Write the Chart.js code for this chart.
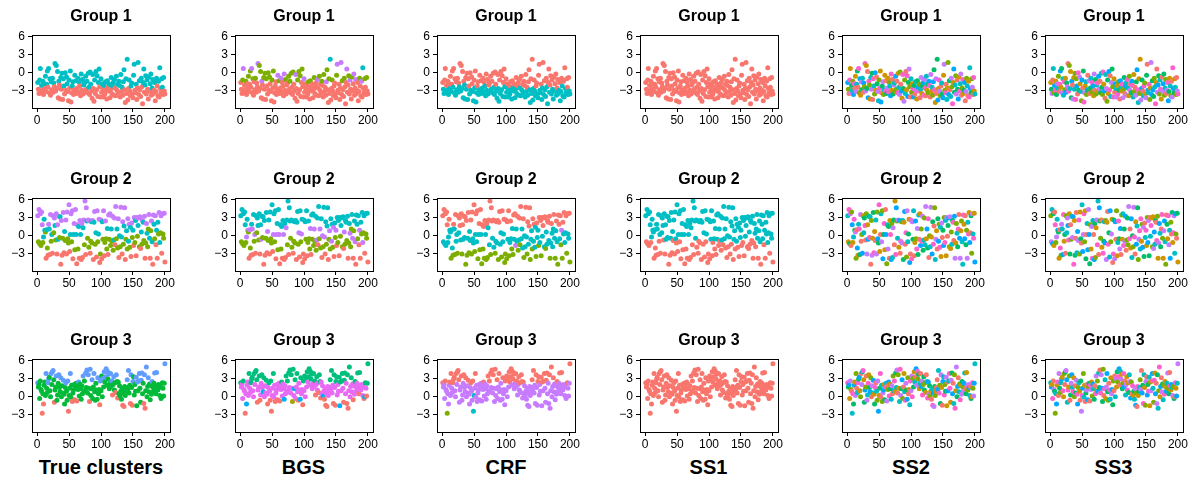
<!DOCTYPE html>
<html>
<head>
<meta charset="utf-8">
<script src="https://cdn.jsdelivr.net/npm/chart.js@4.4.1/dist/chart.umd.min.js"></script>
<style>
  body { margin: 0; background: #fff; width: 1197px; height: 479px; position: relative; overflow: hidden;
         font-family: "Liberation Sans", Arial, Helvetica, sans-serif; }
  .panel { position: absolute; }
  .method { position: absolute; width: 200px; text-align: center; font-weight: bold; font-size: 20px; line-height: 20px; color: #000; }
</style>
</head>
<body>
<script>
// axis ticks
const xTicks = [0, 50, 100, 150, 200];
const yTicks = [-3, 0, 3, 6];
const groupTitles = ['Group 1', 'Group 2', 'Group 3'];
const methods = ['True clusters', 'BGS', 'CRF', 'SS1', 'SS2', 'SS3'];

// observed values (x = 1..200)
const group1 = [
  -1.6,-2.7,-3.4,-1.2,0.7,-3.3,-2.1,-2.9,-1.4,-3.6,-1.8,-2.6,-0.6,-3.1,-1.9,0.3,-2.4,0.7,-3.3,-1.0,
  -3.7,-1.5,-2.8,-0.9,-3.2,-1.7,-2.3,1.5,-3.0,1.2,-2.6,0.2,-4.1,-1.4,-2.0,-4.3,-0.8,-2.7,-0.1,-4.4,
  -1.0,-2.2,-3.5,0.0,-2.9,-0.7,-1.8,-3.1,-4.6,-1.2,-2.5,0.3,-4.8,-3.3,-2.2,-1.5,-3.6,-2.8,-0.4,-3.0,
  -1.3,-3.4,-2.5,-0.9,-3.2,-1.6,-2.2,-3.8,-0.2,-2.9,-1.1,-3.5,-2.0,-1.7,-3.1,-0.6,-2.7,-1.4,-3.3,-0.1,
  -2.4,-3.6,0.1,-1.9,-3.0,-4.2,-0.3,-2.6,-4.7,-1.2,-3.4,0.2,-2.8,-0.5,-3.9,-1.6,0.6,-2.3,-4.0,-1.0,
  -3.2,-1.8,-2.6,-4.0,-2.1,-3.5,-1.5,-2.9,-4.3,-1.3,-2.4,-3.0,-1.9,-4.1,-2.7,-0.8,-3.4,-2.2,-1.6,-3.7,
  -1.1,-2.5,-3.8,-0.6,-2.9,-1.9,-3.3,-1.4,-2.1,-4.0,-0.3,-3.1,-2.4,-3.7,-1.5,0.5,-2.8,-4.9,-1.0,-3.4,
  2.2,-4.5,-2.6,-1.2,-3.0,-3.8,-2.2,-1.7,-3.5,-4.1,-0.4,1.4,-2.9,-3.3,-1.9,-4.4,-2.5,1.7,-3.6,-1.3,
  -2.8,-3.9,-0.9,-2.3,-5.1,-1.6,0.6,-3.2,-2.0,-0.5,-3.5,-1.2,-2.7,-4.3,-0.7,-3.0,-1.8,-0.2,-3.7,-2.5,
  -1.1,-3.4,-2.9,-1.6,-4.6,-3.1,-0.9,-2.2,-3.8,-1.4,-4.0,0.8,-2.6,-3.3,-1.0,-2.4,-3.6,-0.8,-3.0,-3.5
];
const group2 = [
  3.3,-1.0,4.3,-1.3,3.6,-1.6,3.9,1.8,-1.1,-0.2,2.7,0.9,0.6,-3.7,1.0,-2.0,-3.2,1.9,1.1,-3.1,
  3.5,-0.9,0.2,-2.9,3.3,0.5,2.9,1.7,-0.7,3.6,-3.0,1.8,-0.6,3.2,-0.3,3.1,-4.7,2.5,-3.2,-0.4,
  3.8,-2.8,0.7,-0.8,2.6,-3.0,3.9,-0.5,-1.2,5.1,-2.6,0.2,3.6,-1.0,4.1,-3.8,0.2,2.0,-2.3,4.3,
  0.2,-4.6,1.8,-2.2,1.5,-3.7,2.5,0.2,-3.9,2.0,-3.6,1.3,2.6,-1.5,5.7,-3.1,4.6,2.4,-0.4,2.6,
  -1.9,2.5,-2.9,-0.9,2.3,-1.2,2.5,-3.9,2.2,4.0,-1.4,0.5,-3.5,4.1,-1.0,0.3,2.7,-4.4,-3.0,2.6,
  -3.8,2.3,-0.6,4.1,-3.3,-1.1,2.4,-0.5,-2.2,1.2,-3.1,3.4,-0.6,3.6,-1.6,1.1,-0.9,3.2,-2.4,-0.7,
  2.9,-1.5,4.8,-0.5,1.1,-2.0,2.8,-3.6,0.0,-1.8,4.7,-0.2,-3.0,2.3,-1.4,1.6,4.6,-3.9,-0.6,0.8,
  -2.2,2.8,-0.9,1.9,-1.9,1.4,-3.4,2.1,-0.3,0.9,-1.6,3.0,-1.1,2.5,-3.3,3.0,-0.1,1.7,2.9,-1.8,
  3.1,-2.1,0.6,-1.4,2.5,2.2,-0.8,3.2,-3.7,-1.2,2.0,0.4,-1.8,1.1,3.5,-0.4,-3.7,0.8,2.4,-1.0,
  -4.7,3.4,1.9,-0.5,3.3,-1.5,0.9,-3.7,2.2,0.3,3.8,-1.1,0.5,3.3,-2.9,3.6,0.3,-0.4,3.7,-4.3
];
const group3 = [
  2.3,1.6,2.0,-0.3,2.6,1.2,0.9,-2.7,0.5,-1.2,1.9,2.4,0.2,3.8,1.4,0.7,2.3,2.9,3.2,1.0,
  0.0,3.8,2.0,4.1,4.3,2.8,-0.9,1.1,1.6,3.4,-0.6,0.3,2.2,3.6,1.5,0.8,3.1,0.0,1.8,0.6,
  2.7,0.4,-1.2,1.5,2.3,0.9,-0.6,2.6,-2.4,0.2,1.4,3.8,-0.1,1.9,-0.8,0.6,1.1,2.0,-0.5,1.6,
  2.2,-0.7,1.9,1.2,2.4,0.1,2.1,1.3,-0.4,1.8,0.5,3.4,1.0,2.6,0.9,3.9,1.5,4.4,0.6,3.6,
  1.4,-0.8,4.5,0.2,1.3,2.8,-0.3,1.6,3.8,0.8,-0.6,2.2,1.1,-0.4,3.1,0.5,1.2,-1.3,2.6,1.0,
  3.4,0.0,3.0,1.6,4.1,2.4,3.3,4.6,1.9,4.2,2.9,3.7,1.3,2.2,3.8,1.7,2.6,0.3,2.0,3.3,
  1.1,2.3,0.7,3.6,2.5,-0.2,2.4,0.5,1.8,0.1,0.9,-0.4,1.3,-1.4,0.6,-1.6,1.7,0.2,0.9,1.5,
  2.8,1.2,4.3,0.6,1.9,-1.1,3.6,1.5,-1.4,2.5,3.3,0.3,2.0,0.9,3.2,-1.5,2.4,1.0,2.6,3.8,
  1.4,-0.9,2.7,3.9,0.5,2.2,-1.1,3.6,-1.9,1.0,4.9,0.0,1.7,3.1,0.8,2.1,-0.5,1.9,0.4,2.5,
  1.6,0.9,2.2,3.9,1.3,0.5,4.0,1.8,1.1,2.0,1.5,0.2,1.7,-0.3,0.0,2.3,1.4,0.1,2.2,5.4
];

// cluster labels per method, one digit per point
const g1True = '10011010101010110101 01010101010101001010 11010110010100110010 10010100101011010101 10110010010101011001 01001010010010010110 10010101101010110010 10010011001100100101 00100110110100101101 10010010010100110100';
const g1BGS  = '00013000100010010301 00010003010103001010 10010100010100000030 10030000301000010101 00100030010101001003 00000010010000010000 30010001001000310010 20010000001300000301 00100030010300100300 30000010030200100100';
const g1CRF  = '01100101010101001010 10101010101010110101 00101001101011001101 01101011010100101010 11001101101010100110 10110101101101101001 01101010010101001101 01101100110011011010 11011001001011010010 01101101101011001011';
const g1SS1  = '0'.repeat(200);
const g1SS2  = '52071634257016430725 16340527613057214630 74251036427150362417 03617245710364252071 46205173624017536204 21753046135720461357 67041325706142537160 35176204351627041253 04627153426035174602 71350624017453260714';
const g1SS3  = '13604257136420751364 47215360724135061427 25073614250376142503 60342751603247156034 32715046231570463271 05461723054176230546 74126035741206357412 16530472163054721653 53247106532471065324 20675314206753142067';

const g2True = '31313133122210210320 31203132130323120301 30213031130231302313 20312032030231303213 13012130231203123013 02130131120313121312 30312130213203123012 13231203120312031231 30213213013211320132 03213020213213031130';
const g2BGS  = '21212122132310310230 21302122120232120201 20312021120321203212 30212023020321202212 12012120221302132002 02120121130212131213 20213120312302122013 12321302130212021221 20312212012311230123 02212030212312021120';
const g2CRF  = '02020200220221221021 02210200201020201012 01220102201202012010 21010102101202010020 20120201002210220110 10201202121020322012 01022201220210200122 10202210221020102002 01220020120222021202 10020131020220102201';
const g2SS1  = '10101011011110100110 10101111010111110101 10101011010110101101 10101011010110101111 01001010110101011001 01110011010111010101 10111010101101011011 01110101110101011110 10101101001101110111 01111010111111011110';
const g2SS2  = '41736025147362051473 60251437026153740261 37104625371046253710 52463017524630175246 15072643150726431507 76340152763401527634 24615370246153702461 03527416035274160352 61243705612437056124 47150326471503264715';
const g2SS3  = '26453107264531072645 71302465713024657130 04567213045672130456 53216740532167405321 10734526107345261073 65021473650214736502 32670154326701543267 47125630471256304712 16543072165430721654 20317645203176452031';

const g3True = '21111110101112112211 12122101121112112111 21112112011211011101 10112111111211121212 10211211211111211021 11212122121211212012 11021011111110101111 21211021021111212122 11221102012112111112 11121121111111111112';
const g3BGS  = '24442440434442442224 42422204420442432444 24042402044244044404 40442444344242424242 41243244240443244024 24242422422244242042 44022044434040404444 24244024022444232422 40224402042442440442 44424024444440324022';
const g3CRF  = '03330331333030330003 30300033303330330333 03330330223033333333 33330333333030303030 33033033033333033303 03030000300033030330 30300303333333333333 03033303300333030300 33003330330330333330 33303303333333303330';
const g3SS1  = '0'.repeat(200);
const g3SS2  = '73516204735162047351 20647135206471352064 51370426513704265137 46025713460257134602 14763520147635201476 67231405672314056723 32104756321047563210 05472361054723610547 71635042716350427163 26540317265403172654';
const g3SS3  = '45170632451706324517 12036547120365471203 67524103675241036752 30761254307612543076 53207416532074165320 04613275046132750461 71346520713465207134 26053741260537412605 42715063427150634271 15462307154623071546';

// ggplot-style hue palettes
const pal1 = ['#F8766D'];
const pal2 = ['#F8766D', '#00BFC4'];
const pal3 = ['#F8766D', '#00BA38', '#619CFF'];
const pal4 = ['#F8766D', '#7CAE00', '#00BFC4', '#C77CFF'];
const pal5 = ['#F8766D', '#A3A500', '#00BF7D', '#00B0F6', '#E76BF3'];
const pal8 = ['#F8766D', '#CD9600', '#7CAE00', '#00BE67', '#00BFC4', '#00A9FF', '#C77CFF', '#FF61CC'];

const rows = [
  { title: groupTitles[0], values: group1, labels: [g1True, g1BGS, g1CRF, g1SS1, g1SS2, g1SS3], pals: [pal2, pal4, pal2, pal1, pal8, pal8] },
  { title: groupTitles[1], values: group2, labels: [g2True, g2BGS, g2CRF, g2SS1, g2SS2, g2SS3], pals: [pal4, pal4, pal4, pal2, pal8, pal8] },
  { title: groupTitles[2], values: group3, labels: [g3True, g3BGS, g3CRF, g3SS1, g3SS2, g3SS3], pals: [pal3, pal5, pal4, pal1, pal8, pal8] }
];

const FONT = '"Liberation Sans", Arial, Helvetica, sans-serif';
const boxTops = [35, 198, 359];
const boxLeft0 = 32, colStep = 202.5, boxW = 138, boxH = 73;
const yAxisW = 34, xAxisH = 24, padTop = 35, padRight = 10;

// frame around the plot region + panel title
const panelFrame = {
  id: 'panelFrame',
  afterDraw(chart, args, opts) {
    const { ctx, chartArea: a } = chart;
    ctx.save();
    ctx.strokeStyle = '#000';
    ctx.lineWidth = 1;
    ctx.strokeRect(Math.round(a.left) + 0.5, Math.round(a.top) + 0.5, Math.round(a.right - a.left), Math.round(a.bottom - a.top));
    ctx.fillStyle = '#000';
    ctx.font = 'bold 16px ' + FONT;
    ctx.textAlign = 'center';
    ctx.textBaseline = 'alphabetic';
    ctx.fillText(opts.title, (a.left + a.right) / 2, a.top - 14);
    ctx.restore();
  }
};

const parseLabels = s => s.replace(/\s+/g, '').split('').map(Number);

rows.forEach((row, r) => {
  methods.forEach((m, c) => {
    const boxLeft = boxLeft0 + c * colStep;
    const wrap = document.createElement('div');
    wrap.className = 'panel';
    wrap.style.left = (boxLeft - yAxisW) + 'px';
    wrap.style.top = (boxTops[r] - padTop) + 'px';
    const canvas = document.createElement('canvas');
    canvas.width = yAxisW + boxW + padRight;
    canvas.height = padTop + boxH + xAxisH;
    wrap.appendChild(canvas);
    document.body.appendChild(wrap);

    const lab = parseLabels(row.labels[c]);
    const pal = row.pals[c];
    const pts = row.values.map((v, i) => ({ x: i + 1, y: v }));
    const cols = row.values.map((v, i) => pal[(lab[i] || 0) % pal.length]);

    new Chart(canvas, {
      type: 'scatter',
      data: {
        datasets: [{
          data: pts,
          backgroundColor: cols,
          borderWidth: 0,
          pointRadius: 2.5,
          pointHoverRadius: 2.5
        }]
      },
      options: {
        responsive: false,
        animation: false,
        devicePixelRatio: 1,
        events: [],
        layout: { padding: { top: padTop, right: padRight, left: 0, bottom: 0 } },
        plugins: {
          legend: { display: false },
          tooltip: { enabled: false },
          title: { display: false },
          panelFrame: { title: row.title }
        },
        scales: {
          x: {
            type: 'linear',
            min: -8,
            max: 208,
            afterBuildTicks: s => { s.ticks = xTicks.map(v => ({ value: v })); },
            afterFit: s => { s.height = xAxisH; },
            grid: { drawOnChartArea: false, drawTicks: true, tickLength: 4, color: '#000' },
            border: { display: false },
            ticks: { color: '#000', font: { size: 12, family: FONT }, padding: 1, maxRotation: 0, autoSkip: false }
          },
          y: {
            min: -5.8,
            max: 6.2,
            afterBuildTicks: s => { s.ticks = yTicks.map(v => ({ value: v })); },
            afterFit: s => { s.width = yAxisW; },
            grid: { drawOnChartArea: false, drawTicks: true, tickLength: 4, color: '#000' },
            border: { display: false },
            ticks: {
              color: '#000', font: { size: 12, family: FONT }, padding: 3, autoSkip: false,
              callback: v => v < 0 ? '\u2212' + Math.abs(v) : String(v)
            }
          }
        }
      },
      plugins: [panelFrame]
    });

    if (r === rows.length - 1) {
      const t = document.createElement('div');
      t.className = 'method';
      t.textContent = m;
      t.style.left = (boxLeft + boxW / 2 - 100) + 'px';
      t.style.top = '457px';
      document.body.appendChild(t);
    }
  });
});
</script>
</body>
</html>
